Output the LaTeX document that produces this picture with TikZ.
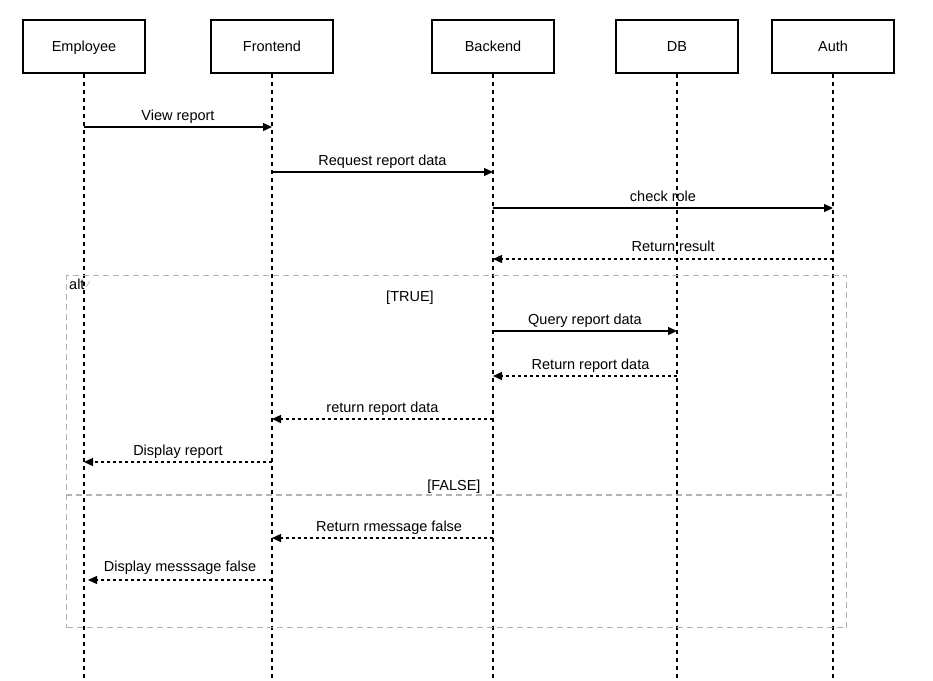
\documentclass[tikz,border=0pt]{standalone}
\usepackage{fontspec}
\setmainfont{Liberation Sans}
\usetikzlibrary{arrows.meta}
\begin{document}
\begin{tikzpicture}[x=1pt,y=-1pt,
  every node/.style={font=\fontsize{14.5}{17}\selectfont},
  actor/.style={draw,line width=1.3pt,minimum width=122pt,minimum height=53pt,inner sep=0pt,fill=white},
  actortext/.style={text height=10.5pt,text depth=3pt,inner sep=0pt},
  lifeline/.style={line width=1.3pt,dash pattern=on 4pt off 4pt},
  call/.style={line width=1.3pt,-{Triangle[length=9pt,width=8pt]}},
  reply/.style={line width=1.3pt,dash pattern=on 3pt off 3pt,-{Triangle[length=9pt,width=8pt]}},
  frame/.style={draw=black!30,line width=1.2pt,dash pattern=on 6pt off 4pt},
  msg/.style={above,inner sep=2pt,text depth=3.5pt}]
\useasboundingbox (0,0) rectangle (933,680);

% participants
\foreach \name/\x/\txt in {emp/84/Employee,fe/272/Frontend,be/493/Backend,db/677/DB,au/833/Auth}{
  \node[actor] (\name) at (\x,46.5) {};
  \node[actortext] (\name-txt) at (\x,48) {\txt};
  \coordinate (\name-end) at (\x,680);
}
% lifelines
\foreach \name in {emp,fe,be,db,au}{
  \draw[lifeline] (\name.south) -- (\name-end);
}

% message anchor points on the lifelines
\foreach \name/\x in {emp/84,fe/272,be/493,db/677,au/833}{
  \foreach \y in {127,172,208,259,331,376,419,462,538,580}{
    \coordinate (\name-\y) at (\x,\y);
  }
}
\coordinate (emp-580s) at (88,580);

% alt combined fragment
\node[frame,draw,minimum width=780pt,minimum height=352pt,inner sep=0pt,anchor=north west] (alt) at (66,275) {};
\coordinate (sepL) at (66,495);
\coordinate (sepR) at (846,495);
\draw[frame] (sepL) -- (sepR);
\node[anchor=west,inner sep=0pt] (altlbl) at (69,284) {alt};
\coordinate (notchA) at (86,287);
\coordinate (notchB) at (90,281);
\draw[black!30,line width=0.6pt] (notchA) -- (notchB);
\node (truelbl) at (410,298) {[TRUE]};
\node[anchor=east] (falselbl) at (484,487) {[FALSE]};

% messages
\draw[call] (emp-127) -- node[msg] {View report} (fe-127);
\draw[call] (fe-172) -- node[msg] {Request report data} (be-172);
\draw[call] (be-208) -- node[msg] {check role} (au-208);
\draw[reply] (au-259) -- node[msg,pos=0.47,inner sep=3pt] {Return result} (be-259);
\draw[call] (be-331) -- node[msg] {Query report data} (db-331);
\draw[reply] (db-376) -- node[msg,pos=0.47] {Return report data} (be-376);
\draw[reply] (be-419) -- node[msg] {return report data} (fe-419);
\draw[reply] (fe-462) -- node[msg] {Display report} (emp-462);
\draw[reply] (be-538) -- node[msg,pos=0.47] {Return rmessage false} (fe-538);
\draw[reply] (fe-580) -- node[msg,inner sep=4pt] {Display messsage false} (emp-580s);
\end{tikzpicture}
\end{document}
